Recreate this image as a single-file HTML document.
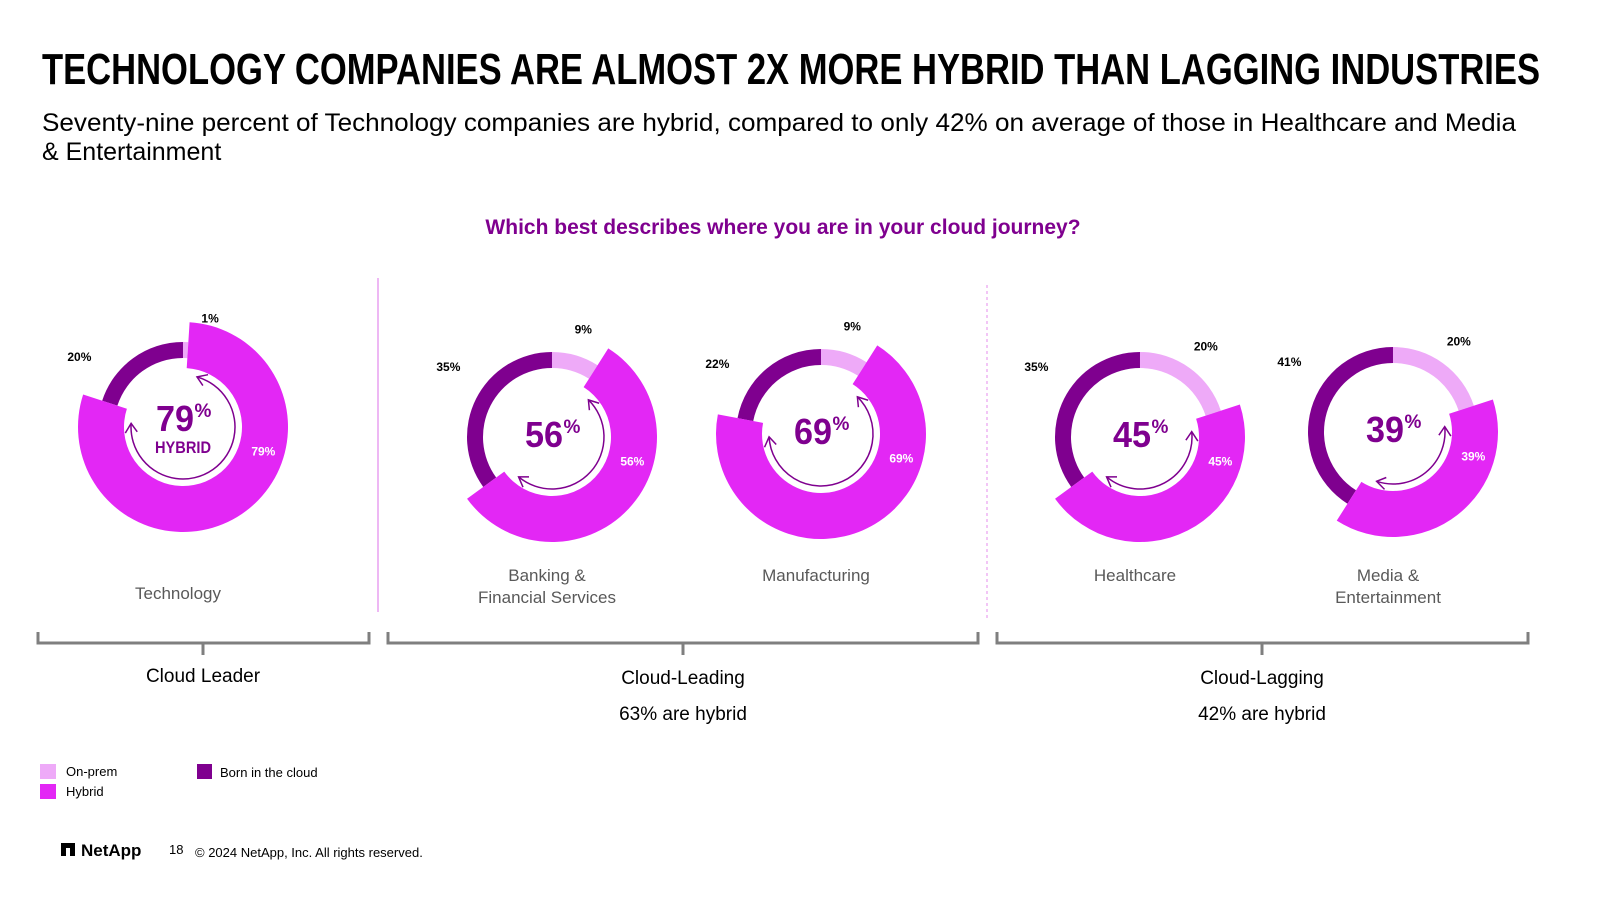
<!DOCTYPE html>
<html><head><meta charset="utf-8"><style>
body{margin:0;width:1600px;height:900px;background:#fff;overflow:hidden;font-family:"Liberation Sans",sans-serif;}
svg{position:absolute;left:0;top:0}
</style></head><body>
<svg id="chart" width="1600" height="900">
<text x="42" y="84" textLength="1498" lengthAdjust="spacingAndGlyphs" font-family="Liberation Sans Narrow, Liberation Sans, sans-serif" font-weight="bold" font-size="44" fill="#000">TECHNOLOGY COMPANIES ARE ALMOST 2X MORE HYBRID THAN LAGGING INDUSTRIES</text>
<text x="42" y="131" textLength="1474" lengthAdjust="spacingAndGlyphs" font-size="25" fill="#000">Seventy-nine percent of Technology companies are hybrid, compared to only 42% on average of those in Healthcare and Media</text>
<text x="42" y="160" font-size="25" fill="#000">&amp; Entertainment</text>
<text x="783" y="234" text-anchor="middle" font-size="21" font-weight="bold" fill="#7f008f">Which best describes where you are in your cloud journey?</text>
<line x1="378" y1="278" x2="378" y2="612" stroke="#e8a0f0" stroke-width="1.5"/>
<line x1="987" y1="285" x2="987" y2="618" stroke="#e8a0f0" stroke-width="1.2" stroke-dasharray="3,3"/>
<g id="donuts"></g>
<g stroke="#7f7f7f" stroke-width="3" fill="none">
<path d="M38 632V643H369V632M203 643V655"/>
<path d="M388 632V643H978V632M683 643V655"/>
<path d="M997 632V643H1528V632M1262 643V655"/>
</g>
<g font-family="Liberation Sans Narrow, Liberation Sans, sans-serif" font-size="19" text-anchor="middle" fill="#000">
<text x="203" y="682">Cloud Leader</text>
<text x="683" y="684">Cloud-Leading</text>
<text x="1262" y="684">Cloud-Lagging</text>
</g>
<text x="683" y="720" text-anchor="middle" font-size="19">63% are hybrid</text>
<text x="1262" y="720" text-anchor="middle" font-size="19">42% are hybrid</text>
<g font-size="13" fill="#000">
<rect x="40" y="764" width="16" height="15" fill="#eeaaf8"/>
<text x="66" y="776">On-prem</text>
<rect x="40" y="784" width="16" height="15" fill="#e327f5"/>
<text x="66" y="796">Hybrid</text>
<rect x="197" y="764" width="15" height="15" fill="#7f008f"/>
<text x="220" y="777">Born in the cloud</text>
</g>
<rect x="61" y="843" width="14" height="13" fill="#000"/>
<rect x="66" y="848" width="4" height="8" fill="#fff"/>
<text x="81" y="856" font-size="17" font-weight="bold">NetApp</text>
<text x="169" y="854" font-size="13">18</text>
<text x="195" y="857" font-size="13">© 2024 NetApp, Inc. All rights reserved.</text>
</svg>
<script>
const industries = ["Technology", "Banking & Financial Services", "Manufacturing", "Healthcare", "Media & Entertainment"];
const onPrem = [1, 9, 9, 20, 20];
const hybrid = [79, 56, 69, 45, 39];
const born = [20, 35, 22, 35, 41];
const labelLines = [["Technology"], ["Banking &", "Financial Services"], ["Manufacturing"], ["Healthcare"], ["Media &", "Entertainment"]];
const layout = [{cx:183,cy:427,ly:599},{cx:552,cy:437,ly:581},{cx:821,cy:434,ly:581},{cx:1140,cy:437,ly:581},{cx:1393,cy:432,ly:581}];
const NS = "http://www.w3.org/2000/svg";
const g = document.getElementById("donuts");
function pt(cx,cy,r,deg){const a=(deg-90)*Math.PI/180;return [cx+r*Math.cos(a),cy+r*Math.sin(a)];}
function arc(cx,cy,r0,r1,a0,a1){
  const large=(a1-a0)>180?1:0;
  const p1=pt(cx,cy,r1,a0),p2=pt(cx,cy,r1,a1),p3=pt(cx,cy,r0,a1),p4=pt(cx,cy,r0,a0);
  return `M${p1}A${r1},${r1} 0 ${large} 1 ${p2}L${p3}A${r0},${r0} 0 ${large} 0 ${p4}Z`;
}
function mk(tag,attrs,parent){const e=document.createElementNS(NS,tag);for(const k in attrs)e.setAttribute(k,attrs[k]);parent.appendChild(e);return e;}
industries.forEach((name,i)=>{
  const {cx,cy,ly}=layout[i];
  const grp=mk("g",{},g);
  
  
  const a0=0,a1=onPrem[i]*3.6,a2=a1+hybrid[i]*3.6,a3=360;
  const s1=mk("path",{d:arc(cx,cy,69,85,a0,a1),fill:"#eeaaf8"},grp);
  
  
  const s3=mk("path",{d:arc(cx,cy,69,85,a2,a3-0.01),fill:"#7f008f"},grp);
  
  
  const s2=mk("path",{d:arc(cx,cy,59,105,a1,a2),fill:"#e327f5"},grp);
  
  
  const r=52,b0=a1+12,b1=a2-14;
  const q0=pt(cx,cy,r,b0),q1=pt(cx,cy,r,b1);
  const ar=mk("path",{d:`M${q0}A${r},${r} 0 ${(b1-b0)>180?1:0} 1 ${q1}`,fill:"none",stroke:"#7f008f","stroke-width":1.5},grp);
  
  
  [[b0,-1],[b1,1]].forEach(([b,dir])=>{
    const tip=pt(cx,cy,r,b);
    const w1=pt(cx,cy,r+6,b-dir*10),w2=pt(cx,cy,r-6,b-dir*10);
    const h=mk("path",{d:`M${w1}L${tip}L${w2}`,fill:"none",stroke:"#7f008f","stroke-width":1.5},grp);
    
    
  });
  const ty=i===0?cy+4:cy+10;
  const c=mk("text",{x:cx-8,y:ty,"text-anchor":"middle","font-family":"Liberation Sans Narrow, Liberation Sans, sans-serif","font-weight":"bold","font-size":36,fill:"#7f008f",textLength:38,lengthAdjust:"spacingAndGlyphs"},grp);
  c.textContent=hybrid[i];
  
  
  const pc=mk("text",{x:cx+20,y:ty-14,"text-anchor":"middle","font-family":"Liberation Sans Narrow, Liberation Sans, sans-serif","font-weight":"bold","font-size":19,fill:"#7f008f"},grp);
  pc.textContent="%";
  
  
  if(i===0){
    const hb=mk("text",{x:cx,y:cy+26,"text-anchor":"middle","font-family":"Liberation Sans Narrow, Liberation Sans, sans-serif","font-weight":"bold","font-size":17,fill:"#7f008f",textLength:56,lengthAdjust:"spacingAndGlyphs"},grp);
    hb.textContent="HYBRID";
    
    
  }
  const lp=pt(cx,cy,112,Math.max(a1/2,14));
  const l1=mk("text",{x:lp[0],y:lp[1]+4,"text-anchor":"middle","font-size":12,"font-weight":"bold"},grp);
  l1.textContent=onPrem[i]+"%";
  
  
  const lb=pt(cx,cy,125,-56);
  const l3=mk("text",{x:lb[0],y:lb[1]+4,"text-anchor":"middle","font-size":12,"font-weight":"bold"},grp);
  l3.textContent=born[i]+"%";
  
  
  const lh=pt(cx,cy,84,107);
  const l2=mk("text",{x:lh[0],y:lh[1]+4,"text-anchor":"middle","font-size":12,"font-weight":"bold",fill:"#fff"},grp);
  l2.textContent=hybrid[i]+"%";
  
  
  labelLines[i].forEach((t,k)=>{
    const n=mk("text",{x:cx-5,y:ly+k*22,"text-anchor":"middle","font-size":17,fill:"#595959"},grp);
    n.textContent=t;
    
    
  });
});
</script>
</body></html>
